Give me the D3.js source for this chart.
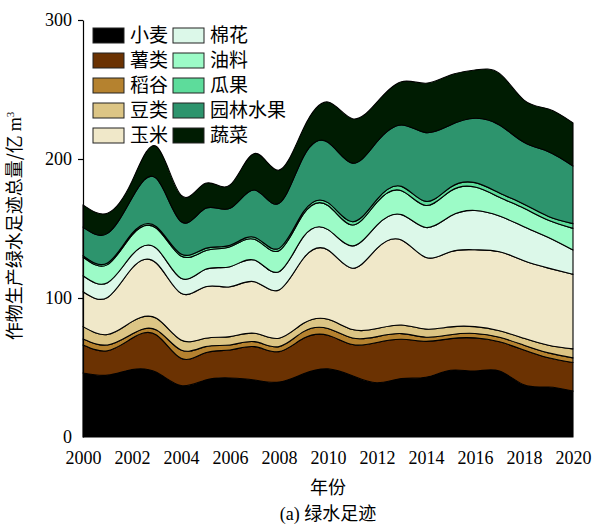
<!DOCTYPE html>
<html>
<head>
<meta charset="utf-8">
<script src="https://cdn.jsdelivr.net/npm/d3@7"></script>
<style>
  html, body { margin: 0; padding: 0; background: #fff; }
  svg { display: block; }
  .serif { font-family: "Liberation Serif", "Times New Roman", serif; }
  .cjk { font-family: "Noto Sans CJK SC", sans-serif; font-weight: 400; }
</style>
</head>
<body>
<svg id="chart" width="595" height="526"></svg>
<script>
// Crop green-water footprint by crop type, 2000–2020 (亿 m³)
const years = [2000, 2001, 2002, 2003, 2004, 2005, 2006, 2007, 2008, 2009, 2010,
               2011, 2012, 2013, 2014, 2015, 2016, 2017, 2018, 2019, 2020];

const wheat      = [46.0, 44.5, 48.5, 46.5, 37.0, 41.0, 42.5, 41.0, 39.5, 45.5, 49.0, 44.0, 39.0, 42.0, 43.0, 48.0, 47.5, 47.5, 37.5, 36.0, 33.0];
const tubers     = [20.2, 17.6, 22.5, 26.9, 19.6, 19.6, 20.1, 24.0, 21.9, 25.5, 24.2, 22.5, 29.0, 28.3, 25.8, 22.8, 23.8, 21.0, 25.1, 21.0, 20.6];
const rice       = [4.3, 4.1, 3.1, 3.6, 6.0, 4.4, 3.6, 3.6, 3.6, 4.8, 4.8, 4.7, 4.2, 4.1, 3.0, 2.8, 3.2, 3.3, 3.4, 3.5, 3.3];
const beans      = [8.9, 7.5, 8.9, 8.4, 7.2, 6.0, 6.0, 6.0, 6.0, 6.0, 6.7, 6.1, 5.8, 6.2, 5.8, 5.6, 4.9, 4.6, 5.0, 5.5, 6.5];
const maize      = [25.1, 26.7, 38.4, 39.6, 33.6, 37.1, 35.9, 37.1, 34.8, 46.8, 49.8, 44.1, 57.7, 61.1, 51.6, 54.1, 55.3, 56.9, 55.8, 55.5, 53.6];
const cotton     = [11.5, 10.6, 9.6, 10.7, 10.8, 12.5, 14.4, 15.6, 13.1, 15.5, 14.7, 16.1, 16.8, 18.3, 21.5, 25.7, 28.3, 25.7, 24.5, 22.0, 17.5];
const oilseeds   = [13.5, 13.0, 14.3, 14.4, 16.0, 13.4, 14.4, 14.9, 15.1, 16.3, 17.3, 15.0, 16.5, 17.2, 15.9, 18.0, 16.8, 13.5, 13.2, 12.4, 15.6];
const melons     = [1.0, 1.2, 1.2, 1.2, 1.5, 1.7, 1.1, 1.5, 1.7, 1.7, 2.1, 2.4, 2.0, 3.1, 2.9, 2.7, 3.2, 3.1, 3.0, 2.8, 3.4];
const orchards   = [20.5, 21.3, 25.5, 34.7, 23.3, 28.8, 26.5, 34.0, 32.4, 39.6, 43.4, 42.1, 41.4, 44.2, 49.5, 44.8, 46.3, 48.9, 44.5, 46.6, 41.5];
const vegetables = [16.0, 14.5, 12.0, 23.0, 19.0, 18.0, 16.8, 26.3, 23.9, 20.3, 29.0, 32.0, 28.6, 31.1, 35.5, 35.9, 34.7, 37.1, 30.4, 30.7, 31.0];

const cropNames  = ["小麦", "薯类", "稻谷", "豆类", "玉米", "棉花", "油料", "瓜果", "园林水果", "蔬菜"];
const cropSeries = [wheat, tubers, rice, beans, maize, cotton, oilseeds, melons, orchards, vegetables];
const cropColors = ["#000000", "#6b3202", "#b5822f", "#dcc585", "#f0e8c9",
                    "#dcf8e9", "#9cfbc7", "#5ddc9b", "#2d946d", "#001c02"];

const yTicks = [0, 100, 200, 300];
const xTicks = [2000, 2002, 2004, 2006, 2008, 2010, 2012, 2014, 2016, 2018, 2020];

// Build rows for the stack
const rows = years.map((yr, i) => {
  const r = { year: yr };
  cropNames.forEach((n, k) => { r[n] = cropSeries[k][i]; });
  return r;
});

const svg = d3.select("#chart");

const x = d3.scaleLinear().domain([2000, 2020]).range([83, 573]);
const y = d3.scaleLinear().domain([0, 300]).range([437, 20]);

const stack = d3.stack().keys(cropNames);
const layers = stack(rows);

const area = d3.area()
  .x(d => x(d.data.year))
  .y0(d => y(d[0]))
  .y1(d => y(d[1]))
  .curve(d3.curveNatural);

svg.append("g")
  .selectAll("path")
  .data(layers)
  .join("path")
  .attr("d", area)
  .attr("fill", (d, i) => cropColors[i])
  .attr("stroke", "#000")
  .attr("stroke-width", 1.1)
  .attr("stroke-linejoin", "round");

// Left axis
const yAxis = svg.append("g")
  .attr("transform", `translate(${x(2000)},0)`)
  .call(d3.axisLeft(y).tickValues(yTicks).tickSize(5).tickSizeOuter(0).tickPadding(6));
yAxis.select(".domain").attr("stroke", "#000").attr("stroke-width", 1.2);
yAxis.selectAll(".tick line").attr("stroke-width", 1.2)
  .filter(d => d === 0).remove();
yAxis.selectAll(".tick text")
  .attr("class", "serif")
  .attr("font-size", 18)
  .attr("fill", "#000");
yAxis.attr("font-family", null);

// Bottom axis labels (no line, no ticks)
const xAxis = svg.append("g")
  .attr("transform", `translate(0,${y(0)})`)
  .call(d3.axisBottom(x).tickValues(xTicks).tickFormat(d3.format("d")).tickSize(0).tickPadding(14));
xAxis.select(".domain").remove();
xAxis.selectAll(".tick text")
  .attr("class", "serif")
  .attr("font-size", 18)
  .attr("fill", "#000");
xAxis.attr("font-family", null);

// Axis titles
svg.append("text")
  .attr("transform", "translate(21,226) rotate(-90)")
  .attr("text-anchor", "middle")
  .attr("font-size", 18)
  .attr("fill", "#000")
  .call(t => {
    t.append("tspan").attr("class", "cjk").text("作物生产绿水足迹总量/亿 ");
    t.append("tspan").attr("class", "serif").text("m");
    t.append("tspan").attr("class", "serif").attr("font-size", 11).attr("dy", -7).text("3");
  });

svg.append("text")
  .attr("class", "cjk")
  .attr("x", 328).attr("y", 494)
  .attr("text-anchor", "middle")
  .attr("font-size", 18)
  .attr("fill", "#000")
  .text("年份");

svg.append("text")
  .attr("x", 328).attr("y", 520)
  .attr("text-anchor", "middle")
  .attr("font-size", 18)
  .attr("fill", "#000")
  .call(t => {
    t.append("tspan").attr("class", "serif").text("(a) ");
    t.append("tspan").attr("class", "cjk").text("绿水足迹");
  });

// Legend: two columns of five
const legend = svg.append("g");
cropNames.forEach((name, i) => {
  const col = Math.floor(i / 5), row = i % 5;
  const gx = 93 + col * 80, gy = 28 + row * 25;
  legend.append("rect")
    .attr("x", gx).attr("y", gy)
    .attr("width", 31).attr("height", 15)
    .attr("fill", cropColors[i])
    .attr("stroke", "#222").attr("stroke-width", 1);
  legend.append("text")
    .attr("class", "cjk")
    .attr("x", gx + 37).attr("y", gy + 14)
    .attr("font-size", 19)
    .attr("fill", "#000")
    .text(name);
});
</script>
</body>
</html>
